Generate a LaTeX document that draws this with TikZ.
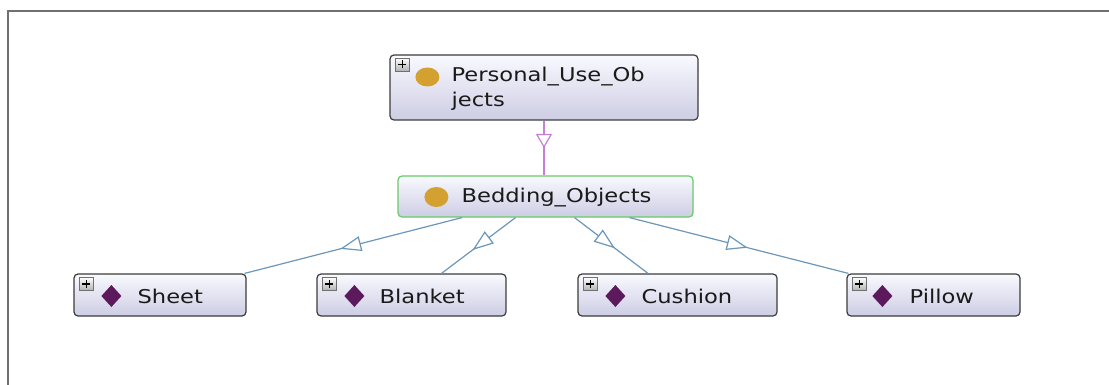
\documentclass[tikz,border=0pt]{standalone}
\usepackage{fontspec}
\setmainfont{DejaVu Sans}[FakeStretch=1.19]
\usetikzlibrary{arrows.meta,decorations.markings}
\definecolor{boxtop}{HTML}{F9F9FF}
\definecolor{boxbot}{HTML}{CDCDE4}
\definecolor{boxline}{HTML}{3C3C3C}
\definecolor{greenline}{HTML}{66CC66}
\definecolor{subline}{HTML}{C77FD6}
\definecolor{edgeline}{HTML}{6B97BB}
\definecolor{gold}{HTML}{D4A030}
\definecolor{indiv}{HTML}{5C1A5C}
\definecolor{frame}{HTML}{707070}
\definecolor{txt}{HTML}{1A1A1A}
\tikzset{
  box/.style={rectangle, rounded corners=4pt, draw=boxline, line width=1.2pt,
    top color=boxtop, bottom color=boxbot, inner sep=0pt},
  lbl/.style={anchor=base west, inner sep=0pt, text=txt,
    font=\fontsize{19}{23}\selectfont},
  isa/.style={line width=1.2pt, postaction={decorate},
    decoration={markings, mark=at position #1 with
      {\arrow{Triangle[fill=white, length=21pt, width=15pt, line width=1.2pt]}}}},
  plusb/.pic={
    \draw[draw=frame, line width=0.6pt, top color=white, bottom color=black!30]
      (-7,-6.5) rectangle (7,6.5);
    \draw[black, line width=1.6pt] (-4,0) -- (4,0) (0,-4) -- (0,4);
  }
}
\begin{document}
\begin{tikzpicture}[x=1pt, y=-1pt]
\useasboundingbox (0,0) rectangle (1109,385);
\fill[white] (0,0) rectangle (1109,385);
\draw[frame, line width=2pt] (1109,11) -- (8,11) -- (8,385);

% boxes
\node[box, minimum width=308pt, minimum height=65pt] (pers) at (544,87.5) {};
\node[box, draw=greenline, minimum width=295pt, minimum height=41pt] (bed) at (545.5,196.5) {};
\node[box, minimum width=172pt, minimum height=42pt] (sheet) at (160,295) {};
\node[box, minimum width=189pt, minimum height=42pt] (blanket) at (411.5,295) {};
\node[box, minimum width=199pt, minimum height=42pt] (cushion) at (677.5,295) {};
\node[box, minimum width=173pt, minimum height=42pt] (pillow) at (933.5,295) {};

% plus boxes
\pic at ([shift={(13,10)}]pers.north west) {plusb};
\pic at ([shift={(13,10.5)}]sheet.north west) {plusb};
\pic at ([shift={(13,10.5)}]blanket.north west) {plusb};
\pic at ([shift={(13,10.5)}]cushion.north west) {plusb};
\pic at ([shift={(13,10.5)}]pillow.north west) {plusb};

% class icons
\fill[gold] ([shift={(38,-10.5)}]pers.west) ellipse [x radius=12pt, y radius=9.5pt];
\fill[gold] ([shift={(39,0.5)}]bed.west) ellipse [x radius=12pt, y radius=10pt];

% individual icons
\foreach \n in {sheet,blanket,cushion}{
  \fill[indiv] ([shift={(38,1)}]\n.west) ++(0,-11) -- ++(10,11) -- ++(-10,11) -- ++(-10,-11) -- cycle;
}
\fill[indiv] ([shift={(36,1)}]pillow.west) ++(0,-11) -- ++(10,11) -- ++(-10,11) -- ++(-10,-11) -- cycle;

% labels
\node[lbl] (tpers1) at ([shift={(62,-5.5)}]pers.west) {Personal\_Use\_Ob};
\node[lbl] (tpers2) at ([shift={(62,19.5)}]pers.west) {jects};
\node[lbl] (tbed) at ([shift={(64,6.5)}]bed.west) {Bedding\_Objects};
\node[lbl] (tsheet) at ([shift={(64,8)}]sheet.west) {Sheet};
\node[lbl] (tblanket) at ([shift={(63,8)}]blanket.west) {Blanket};
\node[lbl] (tcushion) at ([shift={(64,8)}]cushion.west) {Cushion};
\node[lbl] (tpillow) at ([shift={(63,8)}]pillow.west) {Pillow};

% connectors
\draw[subline, line width=1.2pt, postaction={decorate},
  decoration={markings, mark=at position 0.5 with
    {\arrow{Triangle[fill=white, length=14pt, width=16pt, line width=1.2pt]}}}]
  (pers.south) -- (bed.north -| pers.south);
\draw[edgeline, isa=0.56] ([xshift=-83.5]bed.south) -- ([xshift=-2]sheet.north east);
\draw[edgeline, isa=0.58] ([xshift=-30]bed.south) -- ([xshift=30]blanket.north);
\draw[edgeline, isa=0.55] ([xshift=29]bed.south) -- ([xshift=-29.5]cushion.north);
\draw[edgeline, isa=0.54] ([xshift=84]bed.south) -- ([xshift=2]pillow.north west);
\end{tikzpicture}
\end{document}
